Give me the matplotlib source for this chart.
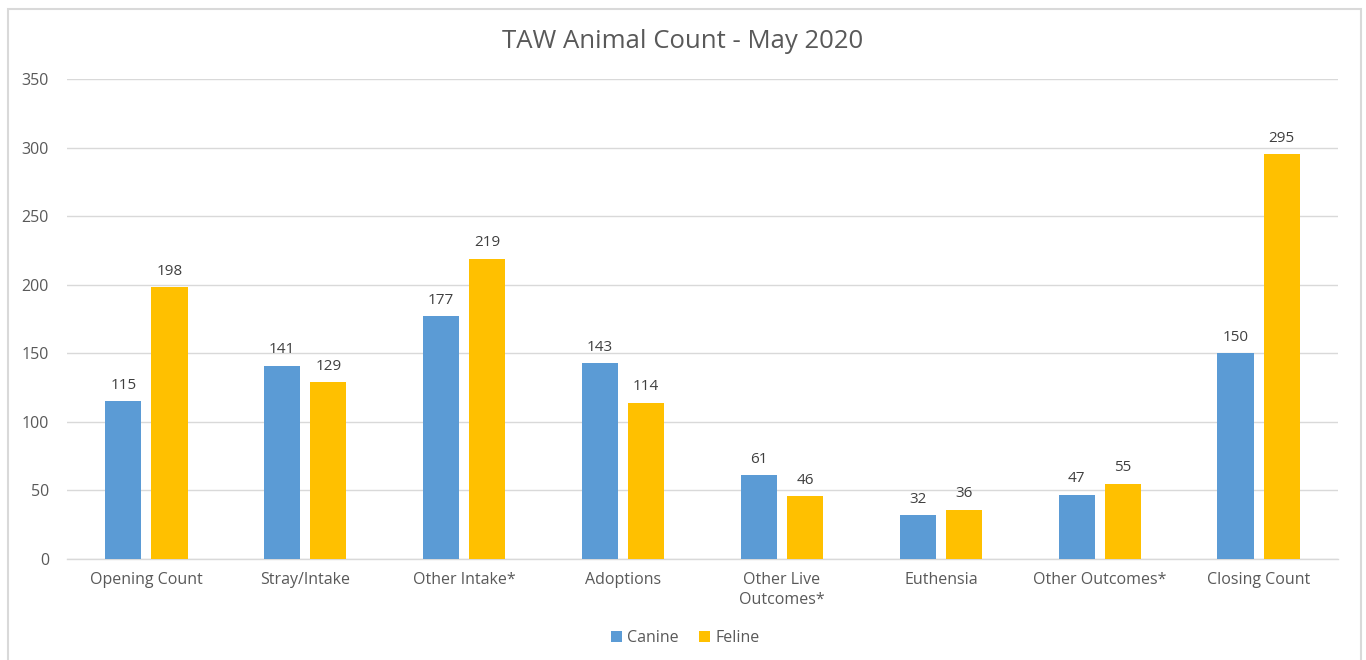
import matplotlib
matplotlib.use("Agg")
import matplotlib.pyplot as plt
import numpy as np
from matplotlib.patches import Rectangle

categories = ["Opening Count", "Stray/Intake", "Other Intake*", "Adoptions",
              "Other Live\nOutcomes*", "Euthensia", "Other Outcomes*", "Closing Count"]
canine = [115, 141, 177, 143, 61, 32, 47, 150]
feline = [198, 129, 219, 114, 46, 36, 55, 295]
yticks = [0, 50, 100, 150, 200, 250, 300, 350]

plt.rcParams['font.family'] = ['Open Sans', 'DejaVu Sans']
txt = '#595959'
blue = '#5B9BD5'
gold = '#FFC000'

W, H = 1366, 660
fig = plt.figure(figsize=(W/100, H/100), dpi=100)
fig.patches.append(Rectangle((8/W, -0.1), (1361-8)/W, 1.1 - 9/H, transform=fig.transFigure,
                             fill=False, edgecolor='#D9D9D9', linewidth=1.5))
ax = fig.add_axes([67/W, 1 - 559/H, (1338-67)/W, (559-79)/H])

x = np.arange(len(categories))
bw = 0.227
off = 0.145
b1 = ax.bar(x - off, canine, bw, color=blue, label='Canine', zorder=3)
b2 = ax.bar(x + off, feline, bw, color=gold, label='Feline', zorder=3)
for bars in (b1, b2):
    for r in bars:
        ax.annotate(f"{int(r.get_height())}", (r.get_x() + r.get_width()/2, r.get_height()),
                    xytext=(0, 6), textcoords='offset points', ha='center', va='bottom',
                    fontsize=11, color='#404040')

ax.set_xlim(-0.5, len(categories) - 0.5)
ax.set_ylim(0, 350)
ax.set_yticks(yticks)
ax.yaxis.grid(True, color='#D9D9D9', linewidth=1, zorder=0)
ax.set_axisbelow(True)
for s in ['top', 'right', 'left']:
    ax.spines[s].set_visible(False)
ax.spines['bottom'].set_color('#D9D9D9')
ax.spines['bottom'].set_linewidth(1)
ax.tick_params(axis='both', length=0, colors=txt, labelsize=11.5)
ax.tick_params(axis='y', pad=13)
ax.tick_params(axis='x', pad=9)
ax.set_xticks(x)
ax.set_xticklabels(categories, linespacing=1.4)

fig.text(683/W, 1 - 42/H, "TAW Animal Count - May 2020", ha='center', va='center',
         fontsize=18.5, color=txt)
fig.legend(handles=[b1, b2], labels=['Canine', 'Feline'], loc='center',
           bbox_to_anchor=(685/W, 1 - 638/H), ncol=2, frameon=False, fontsize=11.5,
           handlelength=0.7, handleheight=0.7, handletextpad=0.3, columnspacing=1.3,
           labelcolor=txt)

fig.savefig("out.png", dpi=100)
